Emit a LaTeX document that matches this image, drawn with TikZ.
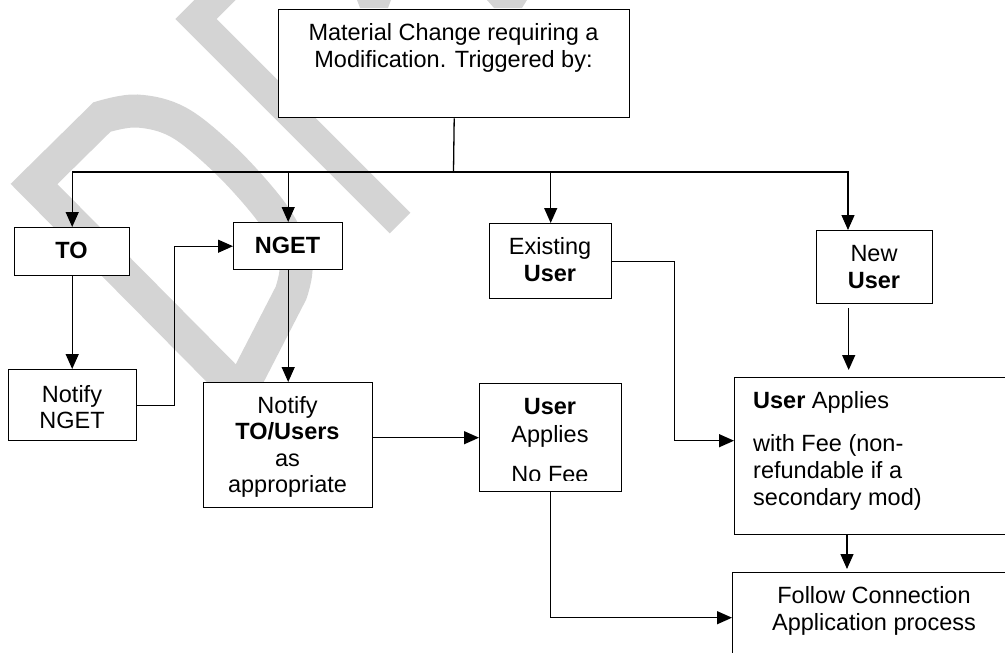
\documentclass[tikz,border=0pt]{standalone}
\usepackage{fontspec}
\setmainfont{Liberation Sans}
\usetikzlibrary{arrows.meta}
\definecolor{wmgray}{RGB}{212,212,212}
\begin{document}
\begin{tikzpicture}[x=1pt,y=-1pt,
  box/.style={draw=black, fill=white, line width=1.4pt, inner sep=0pt, anchor=north west},
  txt/.style={anchor=base, inner sep=0pt, font=\fontsize{23.5}{27}\selectfont},
  conn/.style={draw=black, line width=1.3pt},
  arr/.style={conn, -{Triangle[length=15pt,width=13pt]}},
  wmstroke/.style={draw=wmgray, line width=33pt, line join=miter, line cap=butt}]
\useasboundingbox (0,0) rectangle (1005,653);
\clip (0,0) rectangle (1005,653);
% watermark
\draw[wmstroke] (34,184) -- (240,392) -- plot[smooth, tension=0.6] coordinates {(291,293) (296,265) (284,232) (262,200) (222,157) (178,122) (137,111) (102,117)} -- cycle;
\draw[wmstroke, line width=29pt] (400,223) -- (196,19) -- (236,-21);
\fill[wmgray] (357,0) -- (391,0) -- (388,8) -- (360,8) -- cycle;
\fill[wmgray] (487,0) -- (527,0) -- (522,8) -- (494,8) -- cycle;
% boxes
\node[box, minimum width=351pt, minimum height=108pt] (top) at (278,9) {};
\node[box, minimum width=115pt, minimum height=48pt] (to) at (14,227) {};
\node[box, minimum width=109pt, minimum height=47pt] (nget) at (233,222) {};
\node[box, minimum width=128pt, minimum height=71pt] (nn) at (8,369) {};
\node[box, minimum width=169pt, minimum height=125pt] (ntu) at (203,382) {};
\node[box, minimum width=142pt, minimum height=108pt] (ua) at (479,383) {};
\node[box, minimum width=122pt, minimum height=75pt] (exist) at (489,223) {};
\node[box, minimum width=116pt, minimum height=73pt] (new) at (816,230) {};
\node[box, minimum width=281pt, minimum height=157pt] (fee) at (734,377) {};
\node[box, minimum width=283pt, minimum height=100pt] (follow) at (732,572) {};
% texts
\node[txt] (topA) at (453.5,41) {Material Change requiring a};
\node[txt] (topB) at (453.5,67) {Modification. Triggered by:};
\node[txt] (toT) at (71.5,258) {\bfseries TO};
\node[txt] (ngetT) at (287.5,253) {\bfseries NGET};
\node[txt] (nnA) at (72,402) {Notify};
\node[txt] (nnB) at (72,428) {NGET};
\node[txt] (ntuA) at (287.5,413) {Notify};
\node[txt] (ntuB) at (287.5,439.5) {\bfseries TO/Users};
\node[txt] (ntuC) at (287.5,466) {as};
\node[txt] (ntuD) at (287.5,492.5) {appropriate};
\node[txt] (uaA) at (550,414) {\bfseries User};
\node[txt] (uaB) at (550,442) {Applies};
\begin{scope}
\clip (479,383) rectangle (621,480);
\node[txt] (uaC) at (550,482.5) {No Fee};
\end{scope}
\node[txt] (exA) at (550,254) {Existing};
\node[txt] (exB) at (550,281) {\bfseries User};
\node[txt] (newA) at (874,261) {New};
\node[txt] (newB) at (874,288) {\bfseries User};
\node[txt, anchor=base west] (feeA) at (753,408) {\textbf{User} Applies};
\node[txt, anchor=base west] (feeB) at (753,451) {with Fee (non-};
\node[txt, anchor=base west] (feeC) at (753,478) {refundable if a};
\node[txt, anchor=base west] (feeD) at (753,505) {secondary mod)};
\node[txt] (folA) at (874,603) {Follow Connection};
\node[txt] (folB) at (874,630) {Application process};
% connectors
\coordinate (bus) at (453.5,172);
\draw[conn] (top.south) -- (bus);
\draw[arr] (bus) -| (to.north);
\draw[arr] (bus) -| (nget.north);
\draw[arr] (bus) -| (exist.north);
\coordinate (newin) at ([xshift=32pt]new.north west);
\draw[arr] (bus) -| (newin);
\draw[arr] (to.south) -- (to.south |- nn.north);
\draw[arr] (nn.east) -- ++(37,0) |- (nget.west);
\draw[arr] (nget.south) -- (nget.south |- ntu.north);
\draw[arr] (ua.west -| ntu.east) -- (ua.west);
\draw[arr] (ua.south) |- ([yshift=5pt]follow.west);
\draw[arr] (exist.east) -- ++(62,0) |- ([yshift=15.5pt]fee.west);
\coordinate (newout) at ([xshift=-26pt]new.south);
\draw[arr, shorten <=4pt, shorten >=7pt] (newout) -- (newout |- fee.north);
\coordinate (feeout) at ([xshift=113pt]fee.south west);
\draw[arr, shorten >=3pt] (feeout) -- (feeout |- follow.north);
\end{tikzpicture}
\end{document}
